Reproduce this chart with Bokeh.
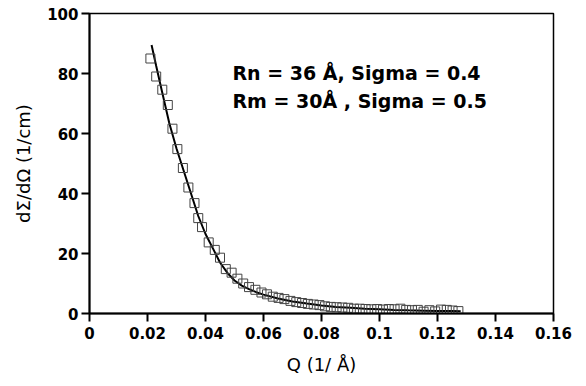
from bokeh.plotting import figure
from bokeh.models import Range1d, FixedTicker, Label
from bokeh.embed import file_html
from bokeh.resources import INLINE

# measured data (open squares)
q_data = [0.0210, 0.0230, 0.0251, 0.0270, 0.0286, 0.0303, 0.0322, 0.0341, 0.0362, 0.0375,
          0.0388, 0.0411, 0.0432, 0.0450, 0.0470, 0.0490, 0.0510, 0.0530, 0.0550, 0.0572,
          0.0593, 0.0612, 0.0632, 0.0652, 0.0672, 0.0693, 0.0713, 0.0733, 0.0753, 0.0773,
          0.0793, 0.0812, 0.0832, 0.0852, 0.0872, 0.0892, 0.0912, 0.0932, 0.0952, 0.0972,
          0.0992, 0.1012, 0.1032, 0.1052, 0.1072, 0.1092, 0.1112, 0.1132, 0.1152, 0.1172,
          0.1192, 0.1212, 0.1232, 0.1252, 0.1272]
i_data = [85.0, 79.0, 74.6, 69.5, 61.6, 54.8, 48.5, 42.0, 36.8, 31.8,
          28.8, 23.7, 21.2, 18.6, 14.8, 13.6, 11.6, 10.0, 8.8, 7.9,
          7.0, 6.4, 5.6, 5.2, 4.8, 4.2, 3.8, 3.5, 3.2, 3.0,
          2.8, 2.4, 2.2, 2.1, 2.0, 1.9, 1.6, 1.6, 1.5, 1.4,
          1.5, 1.3, 1.5, 1.4, 1.6, 1.2, 1.1, 1.2, 0.6, 1.1,
          0.7, 1.3, 1.2, 1.0, 0.8]

# model fit (solid line)
q_fit = [0.0214, 0.0230, 0.0250, 0.0275, 0.0300, 0.0325, 0.0350, 0.0375, 0.0400, 0.0425,
         0.0450, 0.0475, 0.0500, 0.0525, 0.0550, 0.0575, 0.0600, 0.0650, 0.0700, 0.0750,
         0.0800, 0.0850, 0.0900, 0.0950, 0.1000, 0.1050, 0.1100, 0.1150, 0.1200, 0.1250,
         0.1280]
i_fit = [89.5, 82.5, 74.0, 63.5, 55.0, 47.5, 40.0, 32.5, 26.5, 21.8,
         17.0, 13.6, 11.0, 9.3, 8.1, 7.1, 6.3, 5.0, 4.0, 3.3,
         2.7, 2.2, 1.9, 1.6, 1.4, 1.2, 1.05, 0.95, 0.85, 0.8,
         0.75]

x_ticks = [0, 0.02, 0.04, 0.06, 0.08, 0.10, 0.12, 0.14, 0.16]
x_tick_labels = ["0", "0.02", "0.04", "0.06", "0.08", "0.1", "0.12", "0.14", "0.16"]
y_ticks = [0, 20, 40, 60, 80, 100]
y_tick_labels = ["0", "20", "40", "60", "80", "100"]

annot_lines = ["Rn = 36 Å, Sigma = 0.4", "Rm = 30Å , Sigma = 0.5"]

p = figure(width=586, height=386, output_backend="svg", toolbar_location=None,
           x_range=Range1d(0, 0.16), y_range=Range1d(0, 100),
           min_border_left=89, min_border_right=33, min_border_top=13, min_border_bottom=73)
p.background_fill_color = "white"
p.border_fill_color = "white"
p.grid.visible = False
p.outline_line_color = "black"
p.outline_line_width = 1.5

p.line(q_fit, i_fit, line_color="black", line_width=2)
p.scatter(q_data, i_data, marker="square", size=9, fill_color=None,
          line_color="#444444", line_width=1)

for ax, ticks, labels in ((p.xaxis[0], x_ticks, x_tick_labels), (p.yaxis[0], y_ticks, y_tick_labels)):
    ax.ticker = FixedTicker(ticks=ticks)
    ax.major_label_overrides = {t: l for t, l in zip(ticks, labels)}
    ax.minor_tick_line_color = None
    ax.major_tick_in = 0
    ax.major_tick_out = 8
    ax.major_tick_line_width = 2
    ax.axis_line_width = 2
    ax.major_label_text_font = "DejaVu Sans"
    ax.major_label_text_font_style = "bold"
    ax.major_label_text_font_size = "15px"
    ax.major_label_text_color = "black"
    ax.axis_label_text_font = "DejaVu Sans"
    ax.axis_label_text_font_style = "normal"
    ax.axis_label_text_font_size = "18px"
    ax.axis_label_text_color = "black"

p.xaxis.axis_label = "Q (1/ Å)"
p.yaxis.axis_label = "dΣ/dΩ (1/cm)"
p.xaxis.major_label_standoff = 5
p.yaxis.major_label_standoff = 3
p.xaxis.axis_label_standoff = 12
p.yaxis.axis_label_standoff = 10

for txt, yv in zip(annot_lines, [80.3, 71.0]):
    p.add_layout(Label(x=0.0493, y=yv, text=txt, text_font="DejaVu Sans",
                       text_font_style="bold", text_font_size="19px",
                       text_baseline="alphabetic", text_color="black"))

open("out.html", "w").write(file_html(p, INLINE))
